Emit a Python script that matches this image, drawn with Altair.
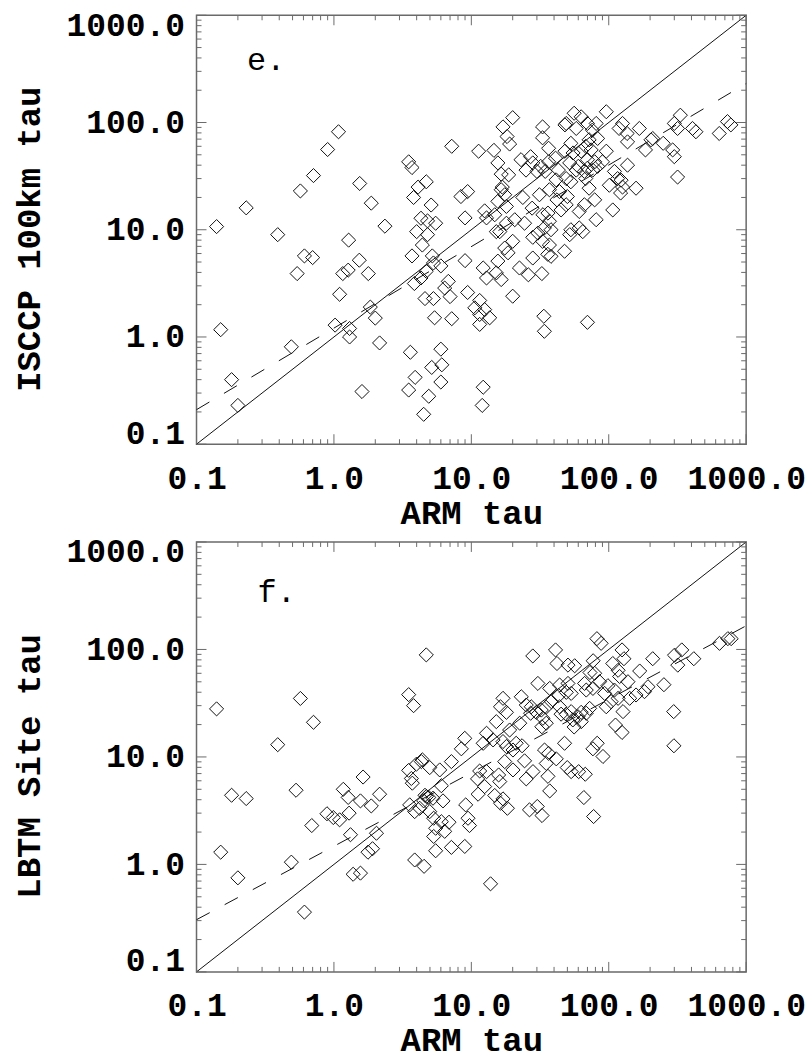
import altair as alt
import pandas as pd

# ---------------- panel e: ISCCP 100km tau vs ARM tau ----------------
e_arm = [
    1.08, 0.90, 0.71, 0.57, 0.23, 0.14, 0.39, 0.61, 0.70, 0.54, 0.15, 0.18, 0.20, 0.49,
    1.02, 1.3, 1.3, 1.84, 2.0, 2.15, 1.6, 1.1, 1.28, 1.54, 1.87, 2.35, 1.53, 1.16, 1.27, 1.78,
    7.2, 3.5, 3.7, 3.8, 4.1, 4.7, 5.1, 4.3, 4.8, 5.5, 4.0, 4.8, 4.4, 3.7, 5.2, 6.0, 5.3, 4.7,
    4.3, 3.85, 6.8, 6.4, 7.0, 4.6, 5.3, 5.4, 7.2, 3.6, 6.0, 5.15, 6.1, 3.9, 6.0, 3.5, 4.9, 4.5,
    8.4, 9.4, 9.0, 9.0, 9.4,
    20, 17, 18.2, 19, 33, 33, 11.3, 14.6, 15.6, 16.5, 18.7, 16.8, 16.5, 23, 27, 28, 25, 30,
    36.5, 36.5, 32, 34.5, 41, 43, 48, 49, 56, 63, 58, 96, 70, 81, 76, 126, 119, 136, 137, 167,
    72, 68, 63, 74.5, 83, 96, 90, 79, 70, 53, 55, 48, 60, 58, 52, 49, 53, 66.5, 70, 76.5, 83,
    68, 72, 79, 66.5, 61, 81, 107, 110, 116, 123, 122, 137, 126, 101, 158, 185, 203, 209, 249,
    292, 300, 317, 332, 300, 317, 407, 431, 637, 731, 774,
    12.5, 12.9, 14.8, 15.6, 17.5, 18, 23.7, 27.7, 31.3, 33.2, 36.1, 37, 34, 38, 30.5, 28, 33,
    37, 36, 38, 47.7, 28, 22.4, 26, 32.6, 20, 20.7, 24.4, 42, 49, 43.8, 53, 52, 64.7, 61,
    15.2, 16.1, 18, 17.5, 18.5, 20, 15.6, 12.2, 12.9, 15.2, 16.5, 11.5, 10.6, 12.5, 11.5, 13.6,
    11.5, 33.7, 34, 70, 12.2, 12, 41.4, 37, 50, 45,
]
e_isccp = [
    82, 56, 32, 23, 16, 10.7, 9.0, 5.7, 5.5, 3.9, 1.17, 0.40, 0.23, 0.81,
    1.29, 1.2, 1.0, 1.9, 1.5, 0.88, 0.31, 2.5, 8.0, 27, 17.7, 10.8, 5.2, 3.9, 4.2, 3.9,
    60, 43, 38, 20, 25, 28, 17, 12.8, 12.1, 11.5, 9.6, 9.0, 7.2, 5.7, 5.7, 4.6, 4.9, 4.1,
    3.55, 3.15, 3.3, 2.86, 2.38, 2.28, 2.28, 1.51, 1.48, 0.72, 0.77, 0.52, 0.55, 0.42, 0.38, 0.32, 0.28, 0.19,
    20.4, 22.7, 12.9, 5.15, 2.6,
    111, 91, 74, 63, 91, 72, 54, 55, 42, 33, 32.5, 25, 23.6, 45, 48, 42, 36, 35,
    57.5, 43, 39, 35, 46.5, 36, 95, 98, 122, 113, 88, 126, 98, 98, 85, 98, 88, 79, 66, 88,
    69, 60, 54, 55.5, 71, 54, 43, 43, 45, 64, 52, 54, 39, 36, 42, 30, 28, 35, 37.5, 36, 39,
    30, 24.4, 19, 17.1, 14.8, 12.4, 15.3, 35, 30, 29, 22, 40, 25, 26, 24.4, 55.5, 69, 71, 64,
    55.5, 48, 31, 117, 98, 88, 88, 82, 79, 102, 95,
    15, 12.9, 13.8, 18.4, 21.2, 16.5, 20, 15.9, 21.2, 13.8, 14.3, 12, 10.4, 10, 9.3, 8.5, 7.8,
    7.2, 5.9, 5.65, 6.3, 5.45, 4.4, 3.8, 3.9, 2.4, 12.4, 11.5, 19, 17.1, 22.7, 10, 9.0, 9.6, 10.4,
    9.6, 9.6, 11.5, 6.75, 6.1, 7.8, 5.1, 4.4, 3.55, 3.96, 3.43, 2.19, 1.87, 1.8, 1.62, 1.51,
    1.31, 1.56, 1.13, 1.37, 0.34, 0.23, 29.2, 23.6, 20.4, 15.3,
]

# ---------------- panel f: LBTM Site tau vs ARM tau ----------------
f_arm = [
    0.14, 0.57, 0.71, 0.39, 0.18, 0.23, 0.53, 0.15, 0.20, 0.49, 0.61, 0.69,
    4.7, 3.5, 3.8, 1.63, 1.17, 1.27, 1.56, 1.87, 2.15, 0.89, 0.99, 1.10, 1.29, 1.32, 2.04,
    1.77, 1.91, 1.38, 1.56, 8.96, 8.46, 7.16, 5.89, 4.98, 4.33, 3.98, 3.5, 3.66, 3.72, 6.05,
    4.71, 5.26, 4.5, 6.22, 3.56, 3.87, 4.21, 4.98, 5.32, 6.05, 6.88, 6.4, 5.5, 5.32, 5.5, 7.16,
    8.96, 3.87, 4.53, 9.1, 9.46, 9.7, 4.4, 4.9, 4.6,
    82, 88, 28, 41, 42, 50.5, 56.5, 77, 73, 79, 125, 129, 107, 117, 120, 168, 209, 252, 193,
    182, 301, 340, 318, 416, 640, 736, 778, 297, 298,
    30.5, 37.2, 43.9, 50.5, 49.1, 43.2, 53.3, 66.7, 68.6, 76.7, 85.7, 98.6, 93.3, 110, 117,
    138, 142, 158, 23.1, 25.1, 27.3, 27, 29.7, 32.3, 33.2, 35.1, 32.6, 38.2, 43.9, 49.1, 53.3,
    54.8, 59.7, 63.1, 68.6, 72.6, 95.9, 104, 127, 112, 125, 82.4, 76.7, 90.8,
    17, 16.3, 18, 15.2, 19, 22.5, 21.2, 23.4, 20.1, 18, 12.9, 12.2, 14.4, 17,
    17.5, 20.1, 24.4, 28.1, 25.1, 35.1, 34.1, 36.5, 41.5, 36.1, 37.2, 47.7, 49.9, 53.3, 60.4,
    67.5, 65.9, 77.6, 11.5, 12.9, 11.1, 12.5, 11.2, 15.8, 16.1, 14.8, 17, 16.3, 18.3,
    26.5, 30.2, 32.7, 13.8, 35, 45, 56, 63,
]
f_lbtm = [
    28, 35, 21, 13, 4.4, 4.1, 4.9, 1.3, 0.75, 1.05, 0.36, 2.3,
    89, 38, 30, 6.5, 5.0, 4.2, 3.9, 3.5, 4.5, 2.96, 2.73, 2.6, 3.0, 1.89, 1.95,
    1.30, 1.40, 0.81, 0.83, 14.9, 11.9, 9.05, 7.57, 7.96, 9.05, 8.55, 7.5, 6.3, 5.7, 5.4,
    4.28, 4.13, 3.9, 3.9, 3.58, 3.1, 3.33, 3.1, 2.69, 2.5, 2.47, 2.03, 2.17, 1.82, 1.34, 1.44,
    1.47, 1.10, 0.96, 3.58, 2.69, 2.3, 9.4, 4.2, 4.4,
    126, 114, 87, 99, 74, 71.5, 70.5, 78.5, 61, 60, 99, 82, 74, 64, 56, 63, 82, 47, 45,
    40.5, 88.5, 99, 71.5, 82, 114, 126, 126, 26.4, 12.7,
    48.3, 43.4, 46.7, 48.3, 39.9, 37.2, 39, 48.3, 41.9, 43.4, 50.1, 46, 39, 41.9, 35.1,
    50.1, 35.1, 37.7, 36.3, 30.4, 29.3, 25.5, 26, 27.3, 22.9, 20.6, 19.1, 32.7, 29.3, 24.9, 26.4,
    22.1, 23.7, 21.3, 25.5, 28.3, 29.3, 32.7, 26.4, 19.8, 16.9, 13.4, 11.9, 10.1,
    35.1, 29.3, 26, 21.3, 17.8, 20.6, 13.4, 12.7, 11.6, 12.5, 16.6, 13.4, 14.4, 13.9,
    9.05, 7.57, 9.2, 7.3, 6.25, 8.7, 11.6, 10.8, 9.6, 6.6, 4.83, 13.4, 7.96, 7.3, 7.3,
    6.9, 4.19, 2.79, 7.4, 7.3, 6.25, 5.3, 4.5, 6.8, 5.9, 4.38, 4.07, 3.71, 3.33,
    3.22, 3.46, 2.85, 0.66, 29, 25, 19, 26,
]

# reference lines (end points)
line_x = [0.1, 1000.0]
e_fit_y = [0.21, 231.0]
f_fit_y = [0.306, 166.0]

# panel letters (position in data units)
e_letter = ("e.", 0.233, 308.0)
f_letter = ("f.", 0.278, 277.0)

tick_major = [0.1, 1.0, 10.0, 100.0, 1000.0]
minor_mult = [2, 3, 4, 5, 6, 7, 8, 9]
decades = [0.1, 1.0, 10.0, 100.0]
tick_minor = [round(d * m, 6) for d in decades for m in minor_mult]

FONT = "Liberation Mono"
FRAME = "#6a6a6a"
INK = "#111111"


def panel(xs, ys, fit_y, ytitle, letter, W, H, ytitle_shift):
    xscale = alt.Scale(type="log", domain=[0.1, 1000], nice=False)
    yscale = alt.Scale(type="log", domain=[0.1, 1000], nice=False)
    xaxis = alt.Axis(values=tick_major, format=".1f", title="ARM tau", domain=False,
                     ticks=False, tickSize=0, grid=False, labelPadding=18,
                     titlePadding=1, labelFlush=False, labelOverlap=False,
                     labelBound=False)
    yaxis = alt.Axis(values=tick_major, format=".1f", title=ytitle, domain=False,
                     ticks=False, tickSize=0, grid=False, labelPadding=12,
                     titlePadding=20, labelFlush=True, labelFlushOffset=6,
                     labelOverlap=False, titleY=H / 2 + ytitle_shift)

    def X(f):
        return alt.X(f, type="quantitative", scale=xscale, axis=xaxis)

    def Y(f):
        return alt.Y(f, type="quantitative", scale=yscale, axis=yaxis)

    pts = alt.Chart(pd.DataFrame({"x": xs, "y": ys})).mark_point(
        shape="diamond", filled=False, size=200, color=INK, strokeWidth=1, opacity=1
    ).encode(x=X("x"), y=Y("y"))

    one = alt.Chart(pd.DataFrame({"x": line_x, "y": line_x})).mark_line(
        color=INK, strokeWidth=1
    ).encode(x=X("x"), y=Y("y"))

    fit = alt.Chart(pd.DataFrame({"x": line_x, "y": fit_y})).mark_line(
        color=INK, strokeWidth=1, strokeDash=[15, 17]
    ).encode(x=X("x"), y=Y("y"))

    txt = alt.Chart(pd.DataFrame({"t": [letter[0]], "x": [letter[1]], "y": [letter[2]]})).mark_text(
        font=FONT, fontSize=32, align="left", baseline="alphabetic", color="black"
    ).encode(x=X("x"), y=Y("y"), text="t:N")

    layers = [pts, one, fit, txt]
    for vals, L in ((tick_major, 10), (tick_minor, 5)):
        d = pd.DataFrame({"v": vals})
        rule = alt.Chart(d).mark_rule(color=FRAME, strokeWidth=1)
        layers.append(rule.encode(x=X("v"), y=alt.value(H), y2=alt.value(H - L)))
        layers.append(rule.encode(x=X("v"), y=alt.value(0), y2=alt.value(L)))
        layers.append(rule.encode(y=Y("v"), x=alt.value(0), x2=alt.value(L)))
        layers.append(rule.encode(y=Y("v"), x=alt.value(W), x2=alt.value(W - L)))

    return alt.layer(*layers).properties(width=W, height=H)


top = panel(e_arm, e_isccp, e_fit_y, "ISCCP 100km tau", e_letter, 551, 430, 9)
bottom = panel(f_arm, f_lbtm, f_fit_y, "LBTM Site tau", f_letter, 551, 431, 9)

chart = alt.vconcat(top, bottom, spacing=4).properties(
    padding={"left": 11, "top": 7, "right": 0, "bottom": 0},
    background="white",
).configure_view(
    stroke=FRAME, strokeWidth=1.5
).configure_axis(
    labelFont=FONT, labelFontSize=33, labelFontWeight="bold", labelColor="black",
    titleFont=FONT, titleFontSize=34, titleFontWeight="bold", titleColor="black",
)

chart.save("out.html", embed_options={"renderer": "svg", "actions": False})
